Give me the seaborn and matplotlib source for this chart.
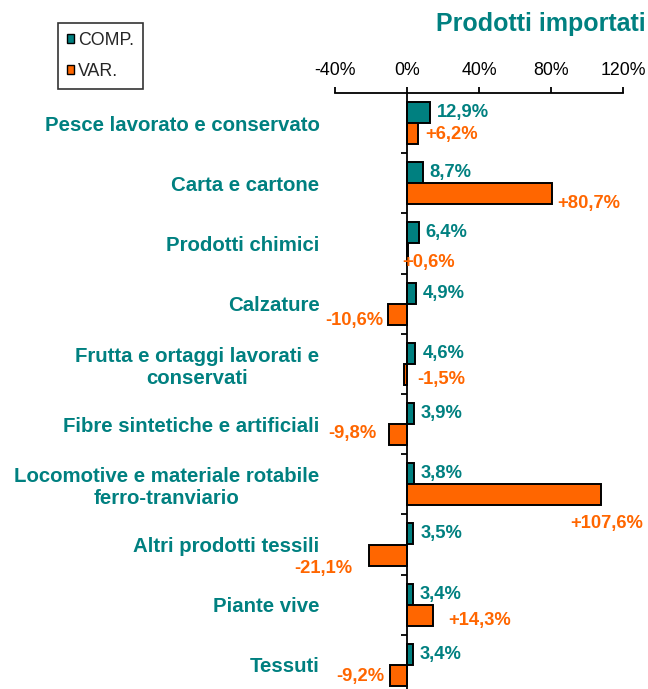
import numpy as np
import pandas as pd
import matplotlib
matplotlib.use("Agg")
import matplotlib.pyplot as plt
from matplotlib.patches import Patch
from matplotlib.ticker import FixedLocator
import seaborn as sns

# data
CATEGORIES = [
    "Pesce lavorato e conservato",
    "Carta e cartone",
    "Prodotti chimici",
    "Calzature",
    "Frutta e ortaggi lavorati e\nconservati",
    "Fibre sintetiche e artificiali",
    "Locomotive e materiale rotabile\nferro-tranviario",
    "Altri prodotti tessili",
    "Piante vive",
    "Tessuti",
]
COMP = [12.9, 8.7, 6.4, 4.9, 4.6, 3.9, 3.8, 3.5, 3.4, 3.4]
VAR = [6.2, 80.7, 0.6, -10.6, -1.5, -9.8, 107.6, -21.1, 14.3, -9.2]
SERIES = ["COMP.", "VAR."]
X_TICKS = [-40, 0, 40, 80, 120]

TEAL = "#008080"
ORANGE = "#FF6600"
PX = 0.72  # pixels -> points at 100 dpi

# label placement for VAR. values (dx px, dy px, ha) - hand placed in original
VAR_LABEL_POS = [
    (7, -1, "left"), (5, -10, "left"), (-6, -8, "left"), (-5, -6, "right"),
    (13, -5, "left"), (-13, 1.5, "right"), (6.5, -28.5, "center"),
    (-17, -13.5, "right"), (16, -5, "left"), (-6, -1, "right"),
]

sns.set_style("white")
plt.rcParams["font.family"] = ["Liberation Sans", "DejaVu Sans"]

df = pd.DataFrame({
    "cat": CATEGORIES * 2,
    "serie": [SERIES[0]] * len(COMP) + [SERIES[1]] * len(VAR),
    "val": COMP + VAR,
})

fig = plt.figure(figsize=(6.48, 6.89), dpi=100)
ax = fig.add_axes([335 / 648, 1 - 695 / 689, 288 / 648, 602 / 689])

sns.barplot(data=df, y="cat", x="val", hue="serie", orient="h",
            order=CATEGORIES, hue_order=SERIES,
            palette={SERIES[0]: TEAL, SERIES[1]: ORANGE}, saturation=1,
            width=0.7, edgecolor="black", linewidth=1.4,
            errorbar=None, legend=False, ax=ax)

ax.set_xlim(-40, 120)
ax.set_ylim(len(CATEGORIES) - 0.5, -0.5)
ax.set_xlabel("")
ax.set_ylabel("")

# spines: top axis + vertical line at 0
for s in ["right", "bottom"]:
    ax.spines[s].set_visible(False)
ax.spines["left"].set_position(("data", 0))
ax.spines["left"].set_linewidth(1.3)
ax.spines["top"].set_linewidth(1.3)
for s in ["left", "top"]:
    ax.spines[s].set_color("black")

ax.xaxis.tick_top()
ax.set_xticks(X_TICKS)
ax.set_xticklabels([f"{v}%" for v in X_TICKS])
ax.tick_params(axis="x", which="major", direction="out", length=4.3, width=1.3,
               pad=6, labelsize=12.8, colors="black", top=True, bottom=False)

ax.yaxis.set_minor_locator(FixedLocator(np.arange(0.5, len(CATEGORIES) - 0.5, 1)))
ax.tick_params(axis="y", which="minor", direction="out", length=4.3, width=1.3,
               left=True, color="black")
ax.tick_params(axis="y", which="major", length=0, pad=63, labelsize=14.7,
               labelcolor=TEAL)
for t in ax.get_yticklabels():
    t.set_fontweight("bold")
    t.set_multialignment("center")

# value labels
for bar, v in zip(ax.containers[0], COMP):
    y = bar.get_y() + bar.get_height() / 2
    ax.annotate(f"{v:.1f}%".replace(".", ","), xy=(v, y), xytext=(7 * PX, 0),
                textcoords="offset points", ha="left", va="center",
                fontsize=13.2, fontweight="bold", color=TEAL)

for bar, v, (dx, dy, ha) in zip(ax.containers[1], VAR, VAR_LABEL_POS):
    y = bar.get_y() + bar.get_height() / 2
    ax.annotate(f"{v:+.1f}%".replace(".", ","), xy=(v, y),
                xytext=(dx * PX, dy * PX), textcoords="offset points",
                ha=ha, va="center", fontsize=13.2, fontweight="bold", color=ORANGE)

fig.text(646 / 648, 1 - 24 / 689, "Prodotti importati", ha="right", va="center",
         fontsize=18, fontweight="bold", color=TEAL)

handles = [Patch(facecolor=TEAL, edgecolor="black", linewidth=1.0),
           Patch(facecolor=ORANGE, edgecolor="black", linewidth=1.0)]
leg = fig.legend(handles, SERIES, loc="upper left",
                 bbox_to_anchor=(58 / 648, 1 - 23 / 689), borderaxespad=0,
                 frameon=True, fancybox=False, edgecolor="black", fontsize=12.8,
                 handlelength=0.42, handleheight=0.42, handletextpad=0.2,
                 labelspacing=0.8, borderpad=0.5)
leg.get_frame().set_linewidth(1.2)

fig.savefig("out.png", dpi=100)
